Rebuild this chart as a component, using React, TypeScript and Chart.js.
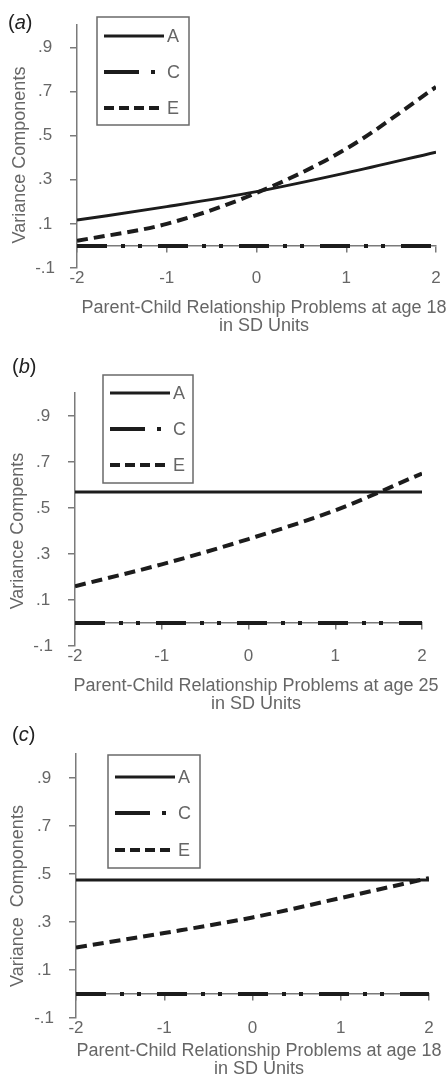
import React, { useEffect, useRef } from 'react';
import { Chart, registerables } from 'chart.js';

Chart.register(...registerables);

// ---------- data ----------
const xValues = [-2, -1, 0, 1, 2];
const xTicks = [-2, -1, 0, 1, 2];
const xTickLabels = ['-2', '-1', '0', '1', '2'];
const yTicks = [-0.1, 0.1, 0.3, 0.5, 0.7, 0.9];
const yTickLabels = ['-.1', '.1', '.3', '.5', '.7', '.9'];
const seriesNames = ['A', 'C', 'E'];

const panelA_A = [0.117, 0.178, 0.246, 0.331, 0.425];
const panelA_C = [0, 0, 0, 0, 0];
const panelA_E = [0.023, 0.1, 0.24, 0.44, 0.72];

const panelB_A = [0.57, 0.57, 0.57, 0.57, 0.57];
const panelB_C = [0, 0, 0, 0, 0];
const panelB_E = [0.16, 0.255, 0.365, 0.49, 0.65];

const panelC_A = [0.475, 0.475, 0.475, 0.475, 0.475];
const panelC_C = [0, 0, 0, 0, 0];
const panelC_E = [0.194, 0.254, 0.319, 0.4, 0.483];

const panelLetters = ['a', 'b', 'c'];
const xTitleLines = [
  ['Parent-Child Relationship Problems at age 18', 'in SD Units'],
  ['Parent-Child Relationship Problems at age 25', 'in SD Units'],
  ['Parent-Child Relationship Problems at age 18', 'in SD Units'],
];
const yTitles = ['Variance Components', 'Variance Compents', 'Variance  Components'];

const panelSeries = [
  [panelA_A, panelA_C, panelA_E],
  [panelB_A, panelB_C, panelB_E],
  [panelC_A, panelC_C, panelC_E],
];

// ---------- styles / layout ----------
const FONT = "'Liberation Sans', Arial, Helvetica, sans-serif";
const LINE = '#1c1c1c';
const AXIS = '#7a7a7a';
const TEXT = '#666666';

const seriesStyles = [
  { width: 3, dash: [] as number[], legendDash: [] as number[] },
  { width: 4, dash: [30, 14, 4, 13, 4, 16], legendDash: [35, 12, 4, 200] },
  { width: 4, dash: [11, 6], legendDash: [10, 5] },
];

// all coordinates are page coordinates
const layouts = [
  {
    top: 0, height: 340, areaTop: 17, areaBottom: 268, left: 77, right: 436,
    label: { x: 8, y: 29 },
    xTitle: { x: 264, y: 308, gap: 18 },
    yTitle: { x: 20, y: 155 },
    legend: { x1: 97, y1: 17, x2: 189, y2: 125, lx1: 104, lx2: 164, tx: 167, rows: [36, 72, 108] },
  },
  {
    top: 340, height: 375, areaTop: 393, areaBottom: 646, left: 75, right: 422,
    label: { x: 12, y: 373 },
    xTitle: { x: 256, y: 686, gap: 18 },
    yTitle: { x: 18.5, y: 531 },
    legend: { x1: 103, y1: 375, x2: 193, y2: 483, lx1: 110, lx2: 170, tx: 173, rows: [393, 429, 465] },
  },
  {
    top: 715, height: 364, areaTop: 754, areaBottom: 1018, left: 76, right: 429,
    label: { x: 12, y: 741 },
    xTitle: { x: 259, y: 1051, gap: 18 },
    yTitle: { x: 18.5, y: 896 },
    legend: { x1: 108, y1: 755, x2: 200, y2: 868, lx1: 115, lx2: 175, tx: 178, rows: [777, 813, 850] },
  },
];

const W = 447;

function Panel({ index }: { index: number }) {
  const ref = useRef<HTMLCanvasElement | null>(null);
  const L = layouts[index];

  useEffect(() => {
    if (!ref.current) return;
    const off = L.top;
    const datasets = seriesNames.map((name, si) => ({
      label: name,
      data: xValues.map((x, i) => ({ x, y: panelSeries[index][si][i] })),
      borderColor: LINE,
      backgroundColor: LINE,
      borderWidth: seriesStyles[si].width,
      borderDash: seriesStyles[si].dash,
      borderCapStyle: 'butt' as const,
      pointRadius: 0,
      pointHoverRadius: 0,
      fill: false,
      cubicInterpolationMode: 'monotone' as const,
    }));

    const overlay = {
      id: 'overlay' + index,
      afterDraw(chart: any) {
        const ctx: CanvasRenderingContext2D = chart.ctx;
        ctx.save();
        // panel label "(a)"
        ctx.fillStyle = '#222';
        ctx.textBaseline = 'alphabetic';
        ctx.textAlign = 'left';
        let x = L.label.x;
        const ly = L.label.y - off;
        ctx.font = `20px ${FONT}`;
        ctx.fillText('(', x, ly);
        x += ctx.measureText('(').width;
        ctx.font = `italic 20px ${FONT}`;
        ctx.fillText(panelLetters[index], x, ly);
        x += ctx.measureText(panelLetters[index]).width;
        ctx.font = `20px ${FONT}`;
        ctx.fillText(')', x, ly);

        // x title
        ctx.fillStyle = TEXT;
        ctx.font = `18px ${FONT}`;
        ctx.textAlign = 'center';
        ctx.textBaseline = 'middle';
        xTitleLines[index].forEach((t, i) => {
          ctx.fillText(t, L.xTitle.x, L.xTitle.y - off + i * L.xTitle.gap);
        });

        // y title
        ctx.save();
        ctx.translate(L.yTitle.x, L.yTitle.y - off);
        ctx.rotate(-Math.PI / 2);
        ctx.fillText(yTitles[index], 0, 0);
        ctx.restore();

        // legend
        const lg = L.legend;
        ctx.strokeStyle = '#6a6a6a';
        ctx.lineWidth = 1.5;
        ctx.setLineDash([]);
        ctx.strokeRect(lg.x1, lg.y1 - off, lg.x2 - lg.x1, lg.y2 - lg.y1);
        chart.data.datasets.forEach((ds: any, i: number) => {
          const y = lg.rows[i] - off;
          ctx.beginPath();
          ctx.strokeStyle = ds.borderColor;
          ctx.lineWidth = ds.borderWidth;
          ctx.lineCap = 'butt';
          ctx.setLineDash(seriesStyles[i].legendDash);
          ctx.moveTo(lg.lx1, y);
          ctx.lineTo(lg.lx2, y);
          ctx.stroke();
          ctx.setLineDash([]);
          ctx.fillStyle = TEXT;
          ctx.font = `18px ${FONT}`;
          ctx.textAlign = 'left';
          ctx.textBaseline = 'middle';
          ctx.fillText(ds.label, lg.tx, y + 1);
        });
        ctx.restore();
      },
    };

    const findLabel = (vals: number[], labels: string[], v: number) => {
      const j = vals.findIndex((t) => Math.abs(t - v) < 1e-9);
      return j >= 0 ? labels[j] : '';
    };

    const chart = new Chart(ref.current, {
      type: 'line',
      data: { datasets },
      options: {
        responsive: false,
        animation: false,
        events: [],
        layout: {
          padding: {
            left: 0,
            top: L.areaTop - off,
            right: W - L.right,
            bottom: 0,
          },
        },
        plugins: {
          legend: { display: false },
          title: { display: false },
          tooltip: { enabled: false },
        },
        scales: {
          x: {
            type: 'linear',
            position: 'bottom',
            min: -2,
            max: 2,
            afterBuildTicks: (s: any) => {
              s.ticks = xTicks.map((v) => ({ value: v }));
            },
            afterFit: (s: any) => {
              s.height = L.top + L.height - L.areaBottom;
            },
            grid: { display: false, drawTicks: false },
            border: { display: false },
            ticks: {
              font: { family: FONT, size: 17, lineHeight: 1 },
              color: TEXT,
              padding: 2,
              maxRotation: 0,
              autoSkip: false,
              callback: (v: any) => findLabel(xTicks, xTickLabels, Number(v)),
            },
          },
          x0: {
            type: 'linear',
            axis: 'x',
            position: { y: 0 },
            min: -2,
            max: 2,
            afterBuildTicks: (s: any) => {
              s.ticks = xTicks.map((v) => ({ value: v }));
            },
            afterFit: (s: any) => {
              s.height = 0;
            },
            ticks: { display: false },
            grid: { drawOnChartArea: false, drawTicks: true, tickLength: 6, color: AXIS, lineWidth: 1.5 },
            border: { display: true, color: AXIS, width: 1.5 },
          },
          y: {
            type: 'linear',
            position: 'left',
            min: -0.1,
            max: 1.0,
            afterBuildTicks: (s: any) => {
              s.ticks = yTicks.map((v) => ({ value: v }));
            },
            afterFit: (s: any) => {
              s.width = L.left;
            },
            grid: { drawOnChartArea: false, drawTicks: true, tickLength: 7, color: AXIS, lineWidth: 1.5 },
            border: { display: true, color: AXIS, width: 1.5 },
            ticks: {
              crossAlign: 'center',
              padding: 15,
              font: { family: FONT, size: 17 },
              color: TEXT,
              autoSkip: false,
              callback: (v: any) => findLabel(yTicks, yTickLabels, Number(v)),
            },
          },
        },
      } as any,
      plugins: [overlay],
    });
    return () => chart.destroy();
  }, [index]);

  return (
    <canvas
      ref={ref}
      width={W}
      height={L.height}
      style={{ position: 'absolute', left: 0, top: L.top, width: W, height: L.height, display: 'block' }}
    />
  );
}

export default function App() {
  return (
    <div style={{ position: 'absolute', left: 0, top: 0, width: W, height: 1079, overflow: 'hidden', background: '#fff' }}>
      {layouts.map((_, i) => (
        <Panel key={i} index={i} />
      ))}
    </div>
  );
}
